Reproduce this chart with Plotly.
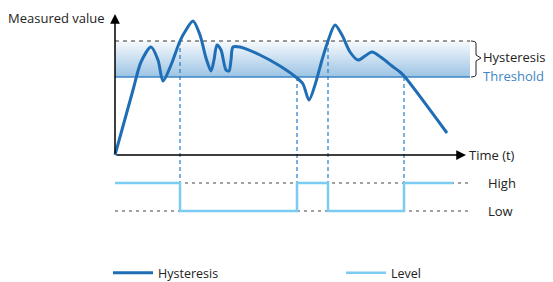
import plotly.graph_objects as go

# ---------------- data ----------------
time_t = [0, 18, 26, 36, 43, 48, 56, 65, 71, 78, 85, 91, 96, 99, 102, 106, 111, 114, 116, 118,
          125, 145, 165, 182, 188, 194, 200, 207, 213, 220, 227, 235, 243, 250, 257, 267, 277,
          285, 290, 332]
measured = [0, 65, 93, 108, 95, 74, 90, 114, 125, 134, 120, 97, 84, 95, 110, 105, 85, 84, 95, 108,
            108, 100, 89, 77, 71, 55, 70, 95, 114, 130, 120, 103, 95, 99, 103, 97, 89,
            83, 78, 22]
threshold = 78
upper = 114
switch_t = [65, 182, 213, 289]
switch_v = [114, 78, 114, 78]
level_t = [0, 65, 182, 213, 289, 338]
level_v = [1, 0, 1, 0, 1, 1]
band_end = 355
ref_end = 353
level_labels = ["Low", "High"]

W, H = 553, 282
X0 = 115
XR = [-X0, W - X0]
split = 160
YD = [1 - split / H, 1]
YR = [-5, 155]
Y2D = [0, 1 - split / H]
Y2R = [0 - (H - 211) / 28, 1 + (183 - split) / 28]

DARK = "#1f6eb5"
LIGHT = "#7ccbf2"
TH = "#3d86c6"
FONT = "Open Sans"


def px_x(px):
    return px - X0


def px_y(py):
    return 155 - py


fig = go.Figure()

# hysteresis band with vertical gradient
fig.add_trace(go.Scatter(
    x=[0, band_end, band_end, 0, 0], y=[threshold, threshold, upper, upper, threshold],
    fill="toself", mode="none", showlegend=False, hoverinfo="skip",
    fillgradient=dict(type="vertical", colorscale=[[0, "#9cc4e4"], [1, "#f7fafd"]]),
))
# upper dashed line
fig.add_trace(go.Scatter(x=[0, band_end], y=[upper, upper], mode="lines",
                         line=dict(color="#333333", width=1.2, dash="4px,4px"),
                         showlegend=False, hoverinfo="skip"))
# threshold line
fig.add_trace(go.Scatter(x=[0, band_end], y=[threshold, threshold], mode="lines",
                         line=dict(color=TH, width=1.5), showlegend=False, hoverinfo="skip"))

# vertical dashed switching lines
for t, v in zip(switch_t, switch_v):
    fig.add_trace(go.Scatter(x=[t, t], y=[v, YR[0]], mode="lines",
                             line=dict(color="#2a7bc4", width=1.2, dash="4px,3px"),
                             showlegend=False, hoverinfo="skip"))
    fig.add_trace(go.Scatter(x=[t, t], y=[Y2R[1], 1], mode="lines", yaxis="y2",
                             line=dict(color="#2a7bc4", width=1.2, dash="4px,3px"),
                             showlegend=False, hoverinfo="skip"))

# high / low reference lines
for lv in [1, 0]:
    fig.add_trace(go.Scatter(x=[0, ref_end], y=[lv, lv], mode="lines", yaxis="y2",
                             line=dict(color="#444444", width=1.2, dash="3px,4px"),
                             showlegend=False, hoverinfo="skip"))

# measured curve
fig.add_trace(go.Scatter(x=time_t, y=measured, mode="lines", name="Hysteresis", legend="legend",
                         line=dict(color=DARK, width=3, shape="spline", smoothing=0.8)))
# level signal
fig.add_trace(go.Scatter(x=level_t, y=level_v, mode="lines", name="Level", yaxis="y2",
                         legend="legend2",
                         line=dict(color=LIGHT, width=2.5, shape="hv")))

# axes lines with arrows
fig.add_annotation(x=0, y=px_y(14), ax=0, ay=0, axref="x", ayref="y", xref="x", yref="y",
                   text="", showarrow=True, arrowhead=2, arrowsize=1.3, arrowwidth=1.5,
                   arrowcolor="black")
fig.add_annotation(x=px_x(466), y=0, ax=0, ay=0, axref="x", ayref="y", xref="x", yref="y",
                   text="", showarrow=True, arrowhead=2, arrowsize=1.3, arrowwidth=1.5,
                   arrowcolor="black")

# bracket
bx = [px_x(v) for v in (471, 476, 477, 481, 477, 476, 471)]
by = [px_y(v) for v in (41, 43, 55, 58, 61, 75, 77)]
path = (f"M {bx[0]},{by[0]} Q {bx[1]},{by[0]} {bx[1]},{by[1]} L {bx[1]},{by[2]} "
        f"L {bx[3]},{by[3]} L {bx[1]},{by[4]} L {bx[1]},{by[5]} Q {bx[1]},{by[6]} {bx[0]},{by[6]}")
fig.add_shape(type="path", path=path, xref="x", yref="y", line=dict(color="#222222", width=1))

FS = 13
txt = dict(family=FONT, size=FS, color="#222222")
fig.add_annotation(x=px_x(107), y=px_y(18), text="Measured value", showarrow=False,
                   xanchor="right", yanchor="middle", font=txt)
fig.add_annotation(x=px_x(467), y=0, text="Time (t)", showarrow=False,
                   xanchor="left", yanchor="middle", font=txt)
fig.add_annotation(x=px_x(481), y=px_y(57), text="Hysteresis", showarrow=False,
                   xanchor="left", yanchor="middle", font=txt)
fig.add_annotation(x=px_x(481), y=px_y(76), text="Threshold", showarrow=False,
                   xanchor="left", yanchor="middle", font=dict(family=FONT, size=FS, color=TH))
for lv in [1, 0]:
    fig.add_annotation(x=px_x(486), y=lv, yref="y2", text=level_labels[lv], showarrow=False,
                       xanchor="left", yanchor="middle", font=txt)

leg = dict(orientation="h", xanchor="left", y=9 / H, yanchor="middle", itemwidth=40,
           font=dict(family=FONT, size=12.5, color="#222222"), bgcolor="rgba(0,0,0,0)")
fig.update_layout(
    width=W, height=H, margin=dict(l=0, r=0, t=0, b=0, autoexpand=False),
    paper_bgcolor="white", plot_bgcolor="white",
    xaxis=dict(range=XR, visible=False, fixedrange=True),
    yaxis=dict(range=YR, domain=YD, visible=False, fixedrange=True),
    yaxis2=dict(range=Y2R, domain=Y2D, visible=False, anchor="x", fixedrange=True),
    showlegend=True,
    legend=dict(leg, x=108 / W),
    legend2=dict(leg, x=341 / W),
    font=txt,
)

fig.write_html("out.html", config={"displayModeBar": False},
               post_script="document.body.style.margin='0';")
